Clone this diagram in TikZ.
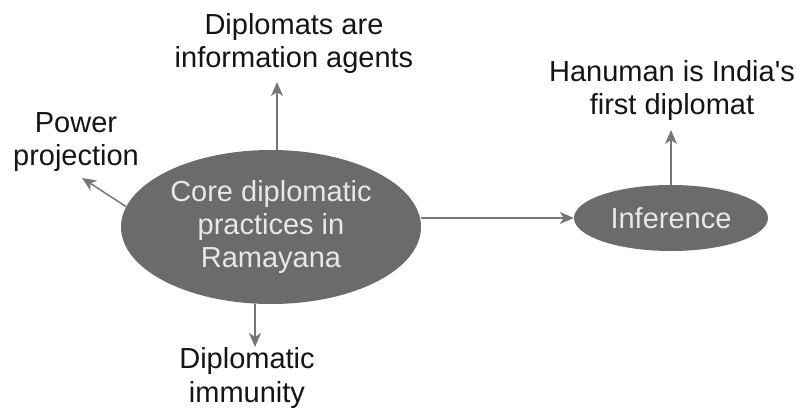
\documentclass[tikz,border=0pt]{standalone}
\usepackage{fontspec}
\setmainfont{Liberation Sans}[Ligatures=TeXOff]
\usetikzlibrary{shapes.geometric,arrows.meta}
\definecolor{ellfill}{HTML}{6B6B6B}
\definecolor{elltext}{HTML}{E8E8E8}
\definecolor{arrowgray}{HTML}{767676}
\definecolor{labeltext}{HTML}{151515}
\begin{document}
\begin{tikzpicture}[x=1pt,y=-1pt,
  bubble/.style={ellipse,fill=ellfill,draw=none,text=elltext,inner sep=0pt,align=center,
    font=\fontsize{29}{33}\selectfont},
  label/.style={text=labeltext,inner sep=0pt,align=center,font=\fontsize{29}{33}\selectfont},
  conn/.style={draw=arrowgray,line width=1.5pt,-{Stealth[length=14pt,width=12pt,inset=4pt]}}
]
\useasboundingbox (0,0) rectangle (798,409);
\fill[white] (0,0) rectangle (798,409);
\node[bubble,minimum width=300pt,minimum height=154pt] (main) at (271,227)
  {Core diplomatic\\practices in\\Ramayana};
\node[bubble,minimum width=194pt,minimum height=66pt] (inf) at (671,218) {Inference};
\node[label] (dip) at (294,44) {Diplomats are\\information agents};
\node[label] (pow) at (76,142) {Power\\projection};
\node[label] (imm) at (247,378) {Diplomatic\\immunity};
\node[label] (han) at (672,91) {Hanuman is India's\\first diplomat};
\coordinate (uptip) at (277,82);
\coordinate (downtip) at (255,347);
\coordinate (powtip) at (82,178);
\coordinate (hantip) at (671,130);
\draw[conn] (uptip |- main.north) -- (uptip);
\draw[conn] (downtip |- main.south) -- (downtip);
\draw[conn] (main.172) -- (powtip);
\draw[conn] (main.east |- inf.west) -- (inf.west);
\draw[conn] (inf.north) -- (hantip);
\end{tikzpicture}
\end{document}
